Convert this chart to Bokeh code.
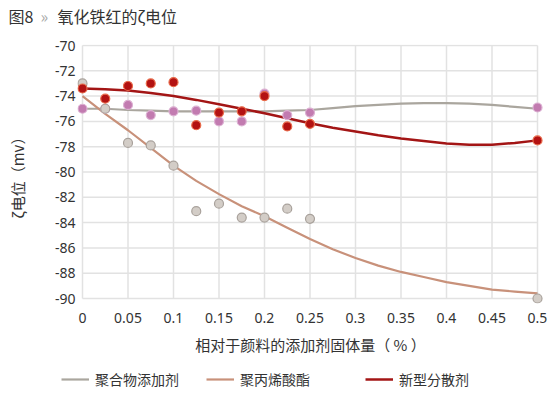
from bokeh.plotting import figure
from bokeh.models import Legend, LegendItem, FixedTicker, Range1d, Label
from bokeh.embed import file_html
from bokeh.resources import INLINE

# ---------------- data ----------------
x_points = [0, 0.025, 0.05, 0.075, 0.1, 0.125, 0.15, 0.175, 0.2, 0.225, 0.25, 0.5]
polymer_pts = [-75.0, -75.0, -74.7, -75.5, -75.2, -75.15, -76.0, -76.0, -73.8, -75.5, -75.3, -74.9]
acrylate_pts = [-73.0, -75.0, -77.7, -77.9, -79.5, -83.1, -82.5, -83.6, -83.6, -82.9, -83.7, -90.0]
new_pts = [-73.4, -74.2, -73.2, -73.0, -72.9, -76.3, -75.3, -75.2, -74.0, -76.4, -76.2, -77.5]

trend_x = [0, 0.025, 0.05, 0.075, 0.1, 0.125, 0.15, 0.175, 0.2, 0.225, 0.25,
           0.275, 0.3, 0.325, 0.35, 0.375, 0.4, 0.425, 0.45, 0.475, 0.5]
polymer_trend = [-75.0, -75.0, -75.1, -75.15, -75.2, -75.2, -75.2, -75.2, -75.2, -75.15, -75.1,
                 -74.95, -74.8, -74.7, -74.6, -74.55, -74.55, -74.6, -74.7, -74.85, -75.0]
acrylate_trend = [-74.0, -75.4, -76.7, -78.1, -79.5, -80.7, -81.75, -82.7, -83.5, -84.4, -85.3,
                  -86.1, -86.8, -87.4, -87.9, -88.3, -88.7, -89.0, -89.3, -89.45, -89.6]
new_trend = [-73.4, -73.45, -73.55, -73.75, -74.0, -74.3, -74.65, -75.0, -75.35, -75.75, -76.15,
             -76.5, -76.8, -77.1, -77.35, -77.55, -77.75, -77.85, -77.85, -77.7, -77.5]

series_names = ["聚合物添加剂", "聚丙烯酸酯", "新型分散剂"]
x_ticks = [0, 0.05, 0.1, 0.15, 0.2, 0.25, 0.3, 0.35, 0.4, 0.45, 0.5]
x_tick_labels = ["0", "0.05", "0.1", "0.15", "0.2", "0.25", "0.3", "0.35", "0.4", "0.45", "0.5"]
y_ticks = [-90, -88, -86, -84, -82, -80, -78, -76, -74, -72, -70]
y_tick_labels = ["-90", "-88", "-86", "-84", "-82", "-80", "-78", "-76", "-74", "-72", "-70"]

title_parts = ["图8", "»", "氧化铁红的ζ电位"]
x_label = "相对于颜料的添加剂固体量（ % ）"
y_label = "ζ电位（mv）"

# ---------------- styles ----------------
CJK = "Noto Sans CJK SC"
NUM = "Noto Sans"
TXT = "#333333"
line_colors = ["#aaa69e", "#c8917a", "#a31515"]
line_widths = [2.2, 2.2, 2.5]
trends = [polymer_trend, acrylate_trend, new_trend]

W, H0, H1, H2 = 554, 30, 335, 28   # title strip, main plot, legend strip


def strip(height):
    f = figure(width=W, height=height, output_backend="svg", toolbar_location=None,
               x_axis_location=None, y_axis_location=None,
               x_range=Range1d(0, 1), y_range=Range1d(0, 1),
               min_border_left=0, min_border_right=0, min_border_top=0, min_border_bottom=0)
    f.outline_line_color = None
    f.grid.visible = False
    f.background_fill_color = "white"
    return f


# ---------------- title strip ----------------
t = strip(H0)
title_x = [8, 40, 57]
title_colors = [TXT, "#aaaaaa", TXT]
for txt, tx, tc in zip(title_parts, title_x, title_colors):
    t.add_layout(Label(x=tx, y=15, x_units="screen", y_units="screen", text=txt,
                       text_font=CJK, text_font_size="16px", text_color=tc,
                       text_baseline="middle", text_align="left"))

# ---------------- main plot ----------------
fl, fr, ft, fb = 77, 543, 14, 273  # frame edges in this canvas
px_per_x = 910.0
px_per_y = 12.65
x0_px = 82   # pixel of x=0
y_top_px = 15  # pixel of y=-70

x_start = x_ticks[0] - (x0_px - fl) / px_per_x
x_end = x_start + (fr - fl) / px_per_x
y_end = y_ticks[-1] + (y_top_px - ft) / px_per_y
y_start = y_end - (fb - ft) / px_per_y

p = figure(width=W, height=H1, output_backend="svg", toolbar_location=None, title=None,
           x_range=Range1d(x_start, x_end), y_range=Range1d(y_start, y_end),
           min_border_left=fl, min_border_right=W - fr, min_border_top=ft,
           min_border_bottom=H1 - fb)
p.outline_line_color = None
p.grid.visible = False
p.background_fill_color = "white"

for ax in (p.xaxis[0], p.yaxis[0]):
    ax.axis_line_color = None
    ax.major_tick_line_color = None
    ax.minor_tick_line_color = None
    ax.major_tick_out = 0
    ax.major_tick_in = 0
    ax.major_label_text_font = NUM
    ax.major_label_text_font_size = "14px"
    ax.major_label_text_color = TXT
    ax.axis_label_text_font = CJK
    ax.axis_label_text_font_size = "15px"
    ax.axis_label_text_font_style = "normal"
    ax.axis_label_text_color = TXT

p.xaxis.ticker = FixedTicker(ticks=x_ticks)
p.yaxis.ticker = FixedTicker(ticks=y_ticks)
p.xaxis.major_label_overrides = {tk: l for tk, l in zip(x_ticks, x_tick_labels)}
p.yaxis.major_label_overrides = {tk: l for tk, l in zip(y_ticks, y_tick_labels)}
p.xaxis.major_label_standoff = 9
p.yaxis.major_label_standoff = 2
p.xaxis.axis_label = x_label
p.yaxis.axis_label = y_label
p.xaxis.axis_label_standoff = 8
p.yaxis.axis_label_standoff = 24

# grid lines bounded to the tick range
grid_color = "#e2e2e2"
p.multi_line(xs=[[tk, tk] for tk in x_ticks], ys=[[y_ticks[0], y_ticks[-1]] for _ in x_ticks],
             line_color=grid_color, line_width=1.5)
p.multi_line(xs=[[x_ticks[0], x_ticks[-1]] for _ in y_ticks], ys=[[tk, tk] for tk in y_ticks],
             line_color=grid_color, line_width=1.5)

# trend lines
for ys, c, lw in zip(trends, line_colors, line_widths):
    p.line(trend_x, ys, line_color=c, line_width=lw)

# markers
p.scatter(x_points, polymer_pts, size=9, fill_color="#c27bb0", line_color="#dcb0d2", line_width=1.2)
p.scatter(x_points, acrylate_pts, size=9, fill_color="#d3cdc7", line_color="#a9a29c", line_width=1.2)
p.scatter(x_points, new_pts, size=9, fill_color="#b31212", line_color="#e86a4a", line_width=1.2)

# ---------------- legend strip ----------------
q = strip(H2)
leg_x = [61, 206, 365]
for name, ys, c, lw, lx in zip(series_names, trends, line_colors, line_widths, leg_x):
    # same trend data; it lies outside this strip's ranges, only the legend sample shows
    r = q.line(trend_x, ys, line_color=c, line_width=lw)
    q.add_layout(Legend(items=[LegendItem(label=name, renderers=[r])], location=(lx, 4),
                        glyph_width=28, glyph_height=18, label_standoff=6,
                        padding=0, margin=0, border_line_color=None, background_fill_alpha=0,
                        label_text_font=CJK, label_text_font_size="14px",
                        label_text_color=TXT))

open("out.html", "w").write(file_html([t, p, q], INLINE))
